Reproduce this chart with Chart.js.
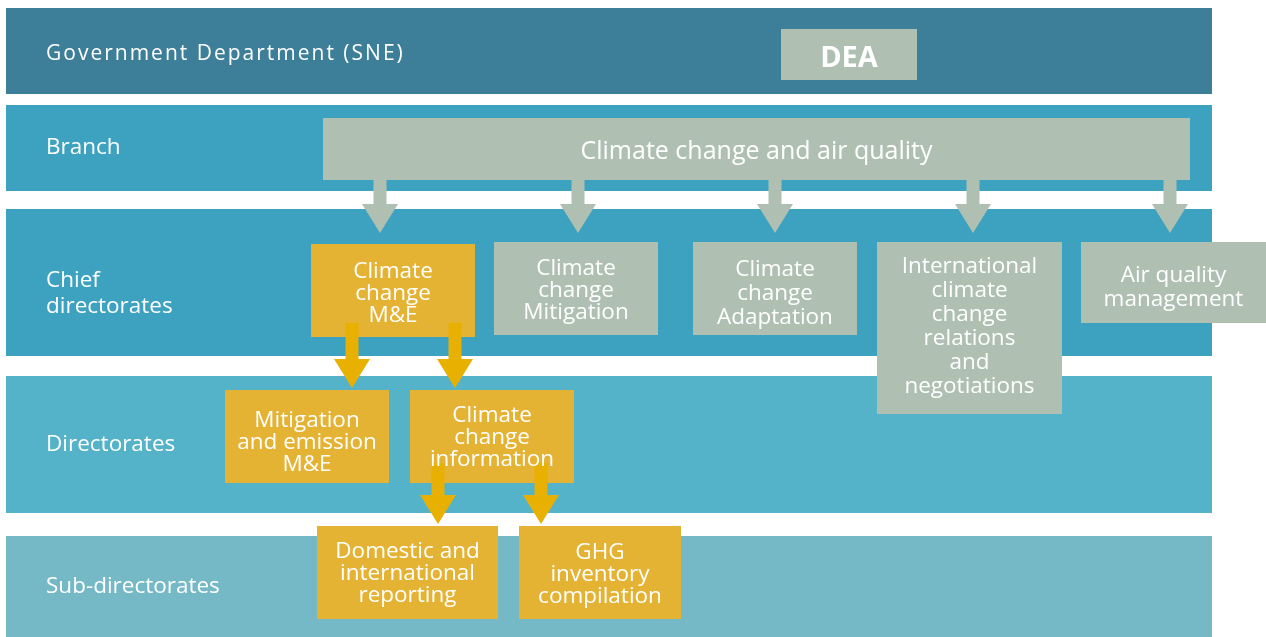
<!DOCTYPE html>
<html>
<head>
<meta charset="utf-8">
<script src="https://cdn.jsdelivr.net/npm/chart.js@4.4.1/dist/chart.umd.min.js"></script>
<style>
  html, body { margin: 0; padding: 0; background: #ffffff; }
  #wrap { width: 1266px; height: 637px; position: relative; }
</style>
</head>
<body>
<div id="wrap"><canvas id="orgChart"></canvas></div>
<script>
// levels (background bands)
const levelNames = ['Government Department (SNE)', 'Branch', 'Chief\ndirectorates', 'Directorates', 'Sub-directorates'];
const levelTop = [8, 105, 209, 376, 536];
const levelBottom = [94, 191, 356, 513, 637];
const levelTextY = [52, 146, 279, 443, 585];
const levelColors = ['#3d7f99', '#3ca2c0', '#3da2c0', '#54b2c9', '#74b9c5'];

// units (boxes)
const unitNames = [
    'DEA',
    'Climate change and air quality',
    'Climate\nchange\nM&E',
    'Climate\nchange\nMitigation',
    'Climate\nchange\nAdaptation',
    'International\nclimate\nchange\nrelations\nand\nnegotiations',
    'Air quality\nmanagement',
    'Mitigation\nand emission\nM&E',
    'Climate\nchange\ninformation',
    'Domestic and\ninternational\nreporting',
    'GHG\ninventory\ncompilation'
];
const unitLeft = [781, 323, 311, 494, 693, 877, 1081, 225, 410, 317, 519];
const unitRight = [917, 1190, 475, 658, 857, 1062, 1266, 389, 574, 498, 681];
const unitTop = [29, 118, 244, 242, 242, 242, 242, 390, 390, 526, 526];
const unitBottom = [80, 180, 337, 335, 335, 414, 323, 483, 483, 619, 619];
const unitTextY = [57, 150, 270, 267, 268, 265, 274, 419, 414, 550, 551];
const unitLineH = [22, 22, 22, 22, 24, 24, 24, 22, 22, 22, 22];
const unitHighlight = [false, false, true, false, false, false, false, true, true, true, true];

// links (arrows)
const arrowX = [380, 578, 775, 973, 1170, 352, 455, 438, 541];
const arrowFrom = [180, 180, 180, 180, 180, 323, 323, 463, 463];
const arrowTo = [233, 233, 233, 233, 233, 388, 388, 524, 524];
const arrowHighlight = [false, false, false, false, false, true, true, true, true];

const grey = '#afc0b3';
const gold = '#e5b334';
const arrowGold = '#e8b000';
const font = '"Open Sans", "Noto Sans", sans-serif';
const textShift = 2; // open sans sits a little high with middle baseline

const orgPlugin = {
    id: 'orgPlugin',
    beforeDatasetsDraw(chart) {
        const ctx = chart.ctx;
        const xs = chart.scales.x;
        const ys = chart.scales.y;
        const px = v => xs.getPixelForValue(v);
        const py = v => ys.getPixelForValue(v);
        ctx.save();

        // bands
        for (let i = 0; i < levelNames.length; i++) {
            ctx.fillStyle = levelColors[i];
            ctx.fillRect(px(6), py(levelTop[i]), px(1212) - px(6), py(levelBottom[i]) - py(levelTop[i]));
        }
        // band labels
        ctx.fillStyle = '#ffffff';
        ctx.textAlign = 'left';
        ctx.textBaseline = 'middle';
        for (let i = 0; i < levelNames.length; i++) {
            const lines = levelNames[i].split('\n');
            if (i === 0) {
                ctx.font = '21px ' + font;
                ctx.letterSpacing = '2px';
            } else {
                ctx.font = '22.5px ' + font;
                ctx.letterSpacing = '0px';
            }
            lines.forEach((t, k) => {
                ctx.fillText(t, px(46), py(levelTextY[i] + k * 26 + textShift));
            });
        }
        ctx.letterSpacing = '0px';

        // boxes
        for (let i = 0; i < unitNames.length; i++) {
            ctx.fillStyle = unitHighlight[i] ? gold : grey;
            ctx.fillRect(px(unitLeft[i]), py(unitTop[i]), px(unitRight[i]) - px(unitLeft[i]), py(unitBottom[i]) - py(unitTop[i]));
        }

        // arrows
        for (let i = 0; i < arrowX.length; i++) {
            const x = arrowX[i];
            const tip = arrowTo[i];
            const headTop = tip - 29;
            ctx.fillStyle = arrowHighlight[i] ? arrowGold : grey;
            ctx.fillRect(px(x - 6.5), py(arrowFrom[i]), px(x + 6.5) - px(x - 6.5), py(headTop) - py(arrowFrom[i]));
            ctx.beginPath();
            ctx.moveTo(px(x - 18), py(headTop));
            ctx.lineTo(px(x + 18), py(headTop));
            ctx.lineTo(px(x), py(tip));
            ctx.closePath();
            ctx.fill();
        }

        // box texts
        ctx.fillStyle = '#ffffff';
        ctx.textAlign = 'center';
        for (let i = 0; i < unitNames.length; i++) {
            const lines = unitNames[i].split('\n');
            const cx = (unitLeft[i] + unitRight[i]) / 2;
            if (i === 0) ctx.font = 'bold 29px ' + font;
            else if (i === 1) ctx.font = '25px ' + font;
            else ctx.font = '22.5px ' + font;
            lines.forEach((t, k) => {
                ctx.fillText(t, px(cx), py(unitTextY[i] + k * unitLineH[i] + textShift));
            });
        }
        ctx.restore();
    }
};

new Chart(document.getElementById('orgChart').getContext('2d'), {
    type: 'scatter',
    data: {
        datasets: [{
            label: 'units',
            data: unitNames.map((n, i) => ({ x: (unitLeft[i] + unitRight[i]) / 2, y: (unitTop[i] + unitBottom[i]) / 2 })),
            pointRadius: 0,
            pointHoverRadius: 0
        }]
    },
    options: {
        responsive: true,
        maintainAspectRatio: false,
        animation: false,
        events: [],
        layout: { padding: 0 },
        plugins: { legend: { display: false }, tooltip: { enabled: false } },
        scales: {
            x: { type: 'linear', min: 0, max: 1266, display: false },
            y: { type: 'linear', min: 0, max: 637, reverse: true, display: false }
        }
    },
    plugins: [orgPlugin]
});
</script>
</body>
</html>
